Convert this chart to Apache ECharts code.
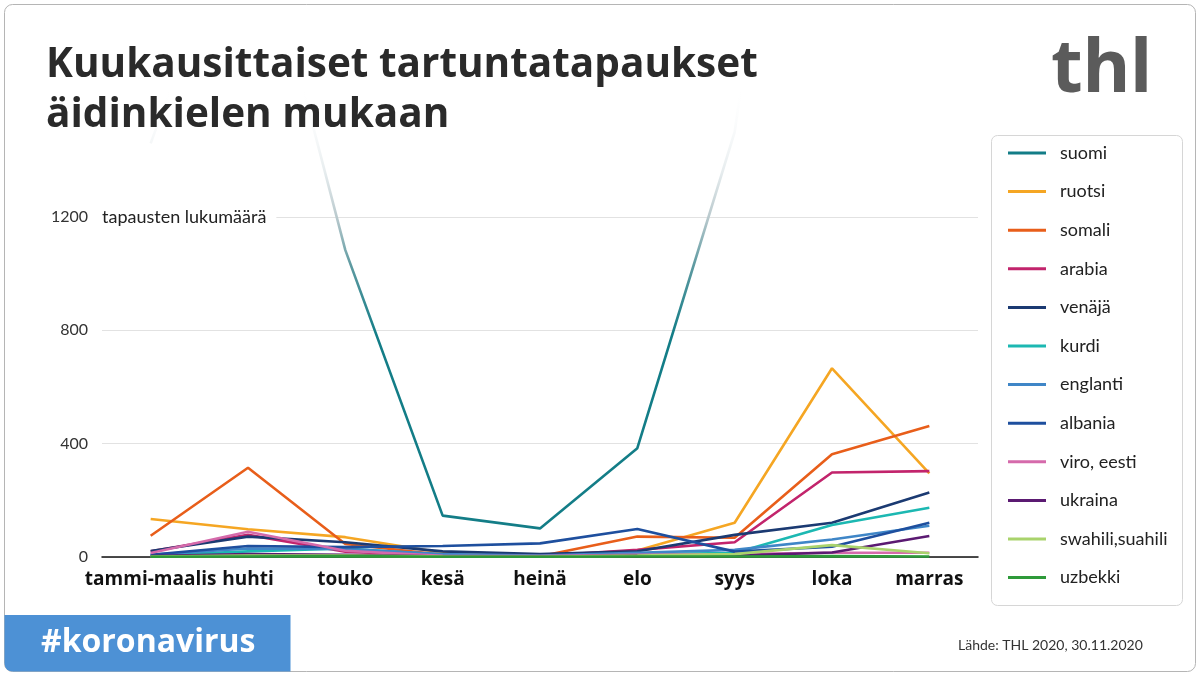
<!DOCTYPE html>
<html>
<head>
<meta charset="utf-8">
<script src="https://cdn.jsdelivr.net/npm/echarts@6/dist/echarts.min.js"></script>
<style>
html,body{margin:0;padding:0;background:#fff;}
#chart{width:1200px;height:675px;}
</style>
</head>
<body>
<div id="chart"></div>
<script>
// ---- data ----
const categories = ['tammi-maalis', 'huhti', 'touko', 'kesä', 'heinä', 'elo', 'syys', 'loka', 'marras'];
const yTicks = [0, 400, 800, 1200];
const suomi   = [1460, 2400, 1083, 146, 101, 384, 1500, 3900, 5200];
const ruotsi  = [134, 98, 70, 15, 3, 23, 121, 666, 295];
const somali  = [75, 315, 46, 8, 3, 72, 68, 363, 462];
const arabia  = [20, 78, 19, 5, 3, 25, 52, 298, 303];
const venaja  = [21, 72, 52, 20, 10, 20, 78, 121, 228];
const kurdi   = [5, 20, 30, 8, 2, 10, 14, 113, 174];
const englanti= [8, 30, 28, 10, 5, 15, 25, 62, 110];
const albania = [8, 39, 35, 39, 48, 99, 19, 36, 121];
const viro    = [14, 89, 22, 4, 3, 8, 10, 15, 15];
const ukraina = [3, 10, 8, 2, 1, 5, 5, 16, 74];
const swahili = [2, 5, 5, 2, 1, 5, 10, 42, 13];
const uzbekki = [1, 2, 3, 1, 1, 2, 2, 3, 2];

const seriesNames = ['suomi','ruotsi','somali','arabia','venäjä','kurdi','englanti','albania','viro, eesti','ukraina','swahili,suahili','uzbekki'];
const seriesData  = [suomi, ruotsi, somali, arabia, venaja, kurdi, englanti, albania, viro, ukraina, swahili, uzbekki];
const seriesColors = ['#137d87','#f5a623','#e85e1a','#c2246c','#1b3a72','#1cb8b2','#3f86c7','#1e4f9e','#d56aab','#5b1a72','#a9d36c','#2e9a3a'];

const chart = echarts.init(document.getElementById('chart'), null, {renderer: 'canvas'});
const FONT = 'Lato';
const BOLD = 'Open Sans';

// suomi line fades out towards the top of the picture
const suomiGradient = {
  type: 'linear', x: 0, y: 85, x2: 0, y2: 335, global: true,
  colorStops: [
    {offset: 0, color: 'rgba(255,255,255,0)'},
    {offset: 0.35, color: '#e6ecee'},
    {offset: 0.53, color: '#b9c9cd'},
    {offset: 0.72, color: '#5e9aa1'},
    {offset: 1, color: '#137d87'}
  ]
};

const series = seriesNames.map((name, i) => ({
  name: name,
  type: 'line',
  data: seriesData[i],
  symbol: 'none',
  smooth: false,
  clip: i === 0 ? false : true,
  z: i === 0 ? 3 : 2,
  color: seriesColors[i],
  lineStyle: {width: 2.6, color: i === 0 ? suomiGradient : seriesColors[i]},
  emphasis: {disabled: true}
}));

chart.setOption({
  animation: false,
  backgroundColor: '#ffffff',
  textStyle: {fontFamily: FONT},
  title: {
    text: 'Kuukausittaiset tartuntatapaukset\näidinkielen mukaan',
    left: 41, top: 35,
    textStyle: {fontFamily: BOLD, fontSize: 40.5, fontWeight: 'bold', color: '#2a2a2a', lineHeight: 50}
  },
  grid: {left: 102, right: 222, top: 217, bottom: 118, containLabel: false},
  xAxis: {
    type: 'category',
    data: categories,
    boundaryGap: true,
    axisLine: {lineStyle: {color: '#111', width: 1.5}},
    axisTick: {show: false},
    axisLabel: {interval: 0, margin: 13, fontFamily: BOLD, fontSize: 19, fontWeight: 'bold', color: '#111'}
  },
  yAxis: {
    type: 'value',
    min: 0, max: 1200, interval: 400,
    name: 'tapausten lukumäärä',
    nameLocation: 'end',
    nameGap: 0,
    nameTextStyle: {align: 'left', verticalAlign: 'middle', fontFamily: FONT, fontSize: 18, color: '#222',
      backgroundColor: '#ffffff', padding: [2, 10, 2, 0]},
    axisLine: {show: false},
    axisTick: {show: false},
    axisLabel: {margin: 14, fontFamily: FONT, fontSize: 16, color: '#333',
      formatter: v => (yTicks.indexOf(v) >= 0 ? String(v) : '')},
    splitLine: {lineStyle: {color: '#e2e2e2', width: 1}}
  },
  legend: {
    orient: 'vertical',
    left: 1008, top: 143,
    icon: 'rect',
    itemWidth: 38, itemHeight: 3,
    itemGap: 18.6,
    padding: 0,
    selectedMode: false,
    data: seriesNames,
    textStyle: {fontFamily: FONT, fontSize: 18, color: '#222', lineHeight: 20, padding: [0, 0, 0, 9]}
  },
  graphic: [
    {type: 'rect', z: -10, silent: true,
      shape: {x: 4.5, y: 4.5, width: 1191, height: 667, r: 8},
      style: {fill: '#ffffff', stroke: '#b5b5b5', lineWidth: 1}},
    {type: 'rect', z: 1, silent: true,
      shape: {x: 991.5, y: 135.5, width: 191, height: 470, r: 6},
      style: {fill: '#ffffff', stroke: '#d6d6d6', lineWidth: 1}},
    {type: 'text', z: 10, silent: true, left: 1051, top: 35,
      style: {text: 'thl', fontFamily: 'Noto Sans', fontWeight: 'bold', fontSize: 73, fill: '#5b5b5b'}},
    {type: 'rect', z: 5, silent: true,
      shape: {x: 4.5, y: 615, width: 286, height: 56.5, r: [0, 0, 0, 8]},
      style: {fill: '#4d91d5'}},
    {type: 'text', z: 6, silent: true, left: 41, top: 627,
      style: {text: '#koronavirus', fontFamily: BOLD, fontWeight: 'bold', fontSize: 32, fill: '#ffffff'}},
    {type: 'text', z: 6, silent: true, left: 958, top: 638,
      style: {text: 'Lähde: THL 2020, 30.11.2020', fontFamily: FONT, fontSize: 14, fill: '#333'}}
  ],
  series: series
});
</script>
</body>
</html>
